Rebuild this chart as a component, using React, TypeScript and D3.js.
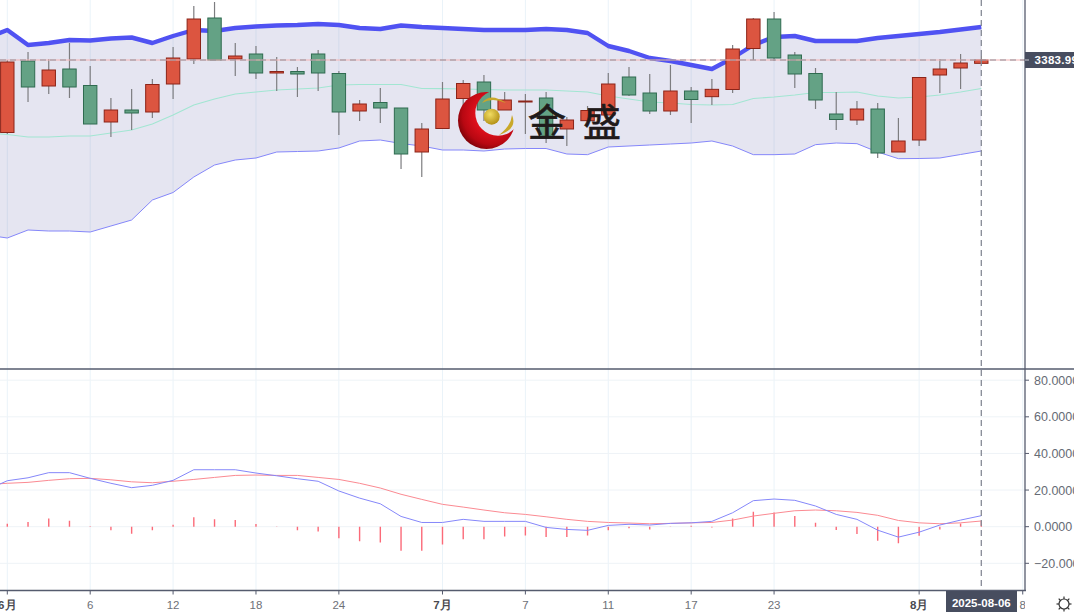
import React from 'react'
import * as d3 from 'd3'

// trading days, 2025-06-02 .. 2025-08-06
const dates = [
  '06-02', '06-03', '06-04', '06-05', '06-06', '06-09', '06-10', '06-11', '06-12', '06-13',
  '06-16', '06-17', '06-18', '06-19', '06-20', '06-23', '06-24', '06-25', '06-26', '06-27',
  '06-30', '07-01', '07-02', '07-03', '07-04', '07-07', '07-08', '07-09', '07-10', '07-11',
  '07-14', '07-15', '07-16', '07-17', '07-18', '07-21', '07-22', '07-23', '07-24', '07-25',
  '07-28', '07-29', '07-30', '07-31', '08-01', '08-04', '08-05', '08-06',
]

const open = [
  3297, 3382.8, 3352.8, 3373.2, 3353.4, 3309.6, 3324, 3321.6, 3355.2, 3385.2,
  3434.4, 3385.2, 3391.2, 3368.4, 3370.2, 3391.2, 3367.8, 3322.8, 3333, 3326.4,
  3273.6, 3301.8, 3337.8, 3357.6, 3324, 3333.6, 3338.4, 3301.2, 3311.2, 3318,
  3363.6, 3344.4, 3322.8, 3346.8, 3340, 3348.6, 3397.8, 3433.2, 3390, 3367.8,
  3319.2, 3312, 3325.2, 3273.6, 3288, 3366, 3374.4, 3380,
]
const close = [
  3381.6, 3351.6, 3372, 3351.6, 3307.2, 3324, 3320.4, 3354.6, 3386.4, 3433.2,
  3384, 3388.8, 3368.4, 3370.2, 3367.2, 3368.4, 3321.6, 3331.2, 3326.4, 3271.2,
  3301.2, 3337.2, 3355.8, 3324, 3336, 3334.8, 3290.4, 3312, 3323.4, 3355.2,
  3342, 3322.8, 3346.8, 3336.6, 3348.8, 3397.2, 3433.2, 3386.4, 3367.2, 3336,
  3312.6, 3325.2, 3272.4, 3286.8, 3363, 3373.2, 3380.4, 3384,
]
const high = [
  3384, 3393.6, 3385.2, 3404.4, 3376.8, 3338.4, 3349.2, 3361.2, 3399.6, 3448.8,
  3453.6, 3404.4, 3400.8, 3387.6, 3375.6, 3396, 3370.8, 3336, 3350.4, 3326.4,
  3308.4, 3357.6, 3360, 3366, 3345.6, 3343.2, 3345.6, 3315.6, 3328.8, 3368.4,
  3375.6, 3367.2, 3378, 3351.6, 3361.2, 3402, 3434.4, 3441.6, 3393.6, 3374.4,
  3345.6, 3334.8, 3332.4, 3314.4, 3363, 3385.2, 3391.2, 3388.8,
]
const low = [
  3295.2, 3333.6, 3343.2, 3338.4, 3307.2, 3291.6, 3300, 3314.4, 3337.2, 3379.2,
  3384, 3364.8, 3361.2, 3346.8, 3339.6, 3346.8, 3294, 3310.8, 3308.4, 3253.2,
  3243.6, 3301.8, 3330, 3310.8, 3324, 3295.2, 3284.4, 3280.8, 3307.2, 3318,
  3340.8, 3319.2, 3318, 3308.4, 3330, 3344.4, 3384, 3382.8, 3350.4, 3325.2,
  3300, 3306, 3266.4, 3273.6, 3280.8, 3344.4, 3349.2, 3380,
]

// band lines start one session before the first visible candle
const bollUpper = [
  3410.4, 3420, 3402, 3404.4, 3408, 3407.4, 3409.8, 3411, 3404.4, 3412.8, 3420,
  3418.8, 3422.4, 3424.2, 3425.4, 3426, 3427.2, 3426, 3422.4, 3421.2, 3425.4,
  3423.6, 3422.4, 3421.2, 3420, 3420, 3420, 3421.2, 3420, 3416.4, 3400.8,
  3394.8, 3386.4, 3382.8, 3378, 3373.2, 3386.4, 3402, 3411.6, 3412.8, 3406.8,
  3406.8, 3406.8, 3410.4, 3412.8, 3415.2, 3417.6, 3420.6, 3423.6,
]
const bollMid = [
  3296.4, 3294.6, 3291.6, 3291.6, 3292.8, 3292.8, 3296.4, 3300, 3307.2, 3318, 3330,
  3337.2, 3343.2, 3345.6, 3348, 3349.2, 3350.4, 3354, 3354.6, 3354.6, 3354.6,
  3349.8, 3349.6, 3349.2, 3348.6, 3348, 3348, 3348, 3346.8, 3345.6, 3340.8,
  3337.2, 3333.6, 3332.4, 3330.6, 3330, 3330.6, 3337.8, 3339.6, 3342, 3345,
  3345, 3345.6, 3340.8, 3338.4, 3339.6, 3342, 3345.6, 3349.8,
]
const bollLower = [
  3174, 3170.4, 3180, 3178.8, 3178.8, 3177.6, 3184.8, 3192, 3216, 3225, 3243.6,
  3258, 3264, 3266.4, 3273.6, 3274.2, 3274.8, 3278.4, 3286.8, 3288, 3283.8,
  3280.8, 3276, 3276, 3274.8, 3277.2, 3277.8, 3277.8, 3271.2, 3270.4, 3279.6,
  3280.8, 3282, 3283.2, 3284.4, 3286.8, 3280.8, 3270.4, 3270.4, 3271.2, 3282.4,
  3284.4, 3283.6, 3273.6, 3265.6, 3265.8, 3266.4, 3270.6, 3274.8,
]

const dif = [
  20, 25.1, 26.7, 29.5, 29.5, 26.4, 23.7, 21.3, 22.6, 25.3, 31.1,
  31.1, 31.1, 29.3, 27.8, 26.2, 24.8, 19.5, 15.6, 12.5, 5.6,
  2.3, 2.3, 4, 2.9, 2.9, 2.9, -0.4, -1.5, -2, 0.7,
  1.3, 0.9, 1.8, 2.1, 2.9, 7.6, 14.2, 15.1, 14.4, 11.3,
  6.7, 4, -1.9, -5.7, -3, 0.9, 3.6, 6,
]
const dea = [
  23, 23.7, 24.2, 25.3, 26.2, 26.4, 25.6, 24.5, 24, 24.8, 25.8,
  26.9, 28, 28.2, 28, 28, 26.9, 25.8, 23.7, 21.1, 17.7,
  14.9, 12.2, 10.7, 9.1, 7.6, 6.7, 5.4, 4, 2.9, 2.3,
  2, 1.6, 1.8, 2.1, 2.3, 3.6, 5.8, 7.3, 8.7, 9.1,
  8.7, 7.8, 6.2, 3.4, 2.1, 1.6, 2.1, 3.1,
]
const macdHist = [
  1.6, 2.5, 4.4, 3.3, 0.2, -1.9, -3.8, -1.9, 1.1, 5.2,
  4.1, 3.6, 1.4, 0.1, -1.9, -2.7, -6.3, -7.9, -8.7, -13.1,
  -13.1, -9.8, -6.9, -6.9, -5.3, -4.8, -5.7, -5.7, -4.8, -2,
  -0.8, -1.6, 0.1, 0.5, -0.5, 4.4, 8.2, 7.8, 5.8, 2.2,
  -1.8, -4, -7.7, -9.1, -4.9, -1.5, 1.8, 3,
]

const lastPrice = 3383.99
const macdTicks = [80, 60, 40, 20, 0, -20]
const xTicks = [
  { i: 0, label: '6月', month: true },
  { i: 4, label: '6' },
  { i: 8, label: '12' },
  { i: 12, label: '18' },
  { i: 16, label: '24' },
  { i: 21, label: '7月', month: true },
  { i: 25, label: '7' },
  { i: 29, label: '11' },
  { i: 33, label: '17' },
  { i: 37, label: '23' },
  { i: 44, label: '8月', month: true },
  { i: 49, label: '8' },
]

const axisX = 1025
const sepY = 369
const bottomY = 590.5
const axisColor = '#555b6e'
const tagColor = '#474d5f'
const gridColor = '#eaf3f9'
const sans = '"Liberation Sans", Arial, sans-serif'

export default function App() {
  const x = d3.scaleLinear().domain([0, 47]).range([7.3, 981.3])
  const y = d3.scaleLinear().domain([3456, 3456 - 1.2 * sepY]).range([0, sepY])
  const yM = d3.scaleLinear().domain([-20, 80]).range([563.3, 380.2])

  // series with a leading point are offset by one
  const line = (ys: d3.ScaleLinear<number, number>) =>
    d3.line<number>().x((_, i) => x(i - 1)).y(d => ys(d))

  const bandArea = d3.area<number>()
    .x((_, i) => x(i - 1))
    .y0(d => y(d))
    .y1((_, i) => y(bollLower[i]))

  const bodyW = 13.4
  const lastIdx = dates.length - 1

  return (
    <div style={{ width: 1074, height: 612, overflow: 'hidden' }}>
      <style>{'html,body{margin:0;padding:0;background:#fff;overflow:hidden}'}</style>
      <svg width={1074} height={612} style={{ display: 'block', fontFamily: sans }}>
        <defs>
          <clipPath id="plot"><rect x={0} y={0} width={axisX} height={bottomY} /></clipPath>
          <clipPath id="labels"><rect x={0} y={591} width={axisX} height={21} /></clipPath>
          <radialGradient id="crescent" cx="0.6" cy="0.4" r="0.65">
            <stop offset="0.45" stopColor="#e0101c" />
            <stop offset="0.8" stopColor="#b80812" />
            <stop offset="1" stopColor="#7c0208" />
          </radialGradient>
          <radialGradient id="ball" cx="0.4" cy="0.35" r="0.7">
            <stop offset="0" stopColor="#f1dc62" />
            <stop offset="1" stopColor="#b08c12" />
          </radialGradient>
          <mask id="crescentCut">
            <rect x={440} y={80} width={100} height={90} fill="#fff" />
            <circle cx={498} cy={113} r={22.7} fill="#000" />
          </mask>
        </defs>

        <g clipPath="url(#plot)">
          {xTicks.map(t => (
            <line key={t.i} x1={x(t.i)} x2={x(t.i)} y1={0} y2={bottomY} stroke={gridColor} strokeWidth={1} />
          ))}
          {macdTicks.map(t => (
            <line key={t} x1={0} x2={axisX} y1={yM(t)} y2={yM(t)} stroke="#eef3f7" strokeWidth={1} />
          ))}

          <path d={bandArea(bollUpper) ?? ''} fill="#5a5aa8" fillOpacity={0.155} />
          <path d={line(y)(bollMid) ?? ''} fill="none" stroke="#a2e6d2" strokeWidth={1.1} />
          <path d={line(y)(bollLower) ?? ''} fill="none" stroke="#8587fa" strokeWidth={1} />
          <path d={line(y)(bollUpper) ?? ''} fill="none" stroke="#5052f2" strokeWidth={4.4} strokeLinejoin="round" />

          {dates.map((d, i) => {
            const up = close[i] >= open[i]
            const top = y(Math.max(open[i], close[i]))
            const h = Math.abs(y(open[i]) - y(close[i]))
            return (
              <g key={d}>
                <line x1={x(i)} x2={x(i)} y1={y(high[i])} y2={y(low[i])} stroke="#7d7d80" strokeWidth={1.2} />
                <rect
                  x={x(i) - bodyW / 2}
                  y={top}
                  width={bodyW}
                  height={Math.max(h, 1)}
                  fill={up ? '#dc5540' : '#64a285'}
                  stroke={up ? '#8c2418' : '#2f6b50'}
                  strokeWidth={1}
                />
              </g>
            )
          })}

          {macdHist.map((v, i) => (
            <line key={dates[i]} x1={x(i)} x2={x(i)} y1={yM(0)} y2={yM(v)} stroke="#fb6a78" strokeWidth={1.4} />
          ))}
          <path d={line(yM)(dea) ?? ''} fill="none" stroke="#fb8a92" strokeWidth={1} />
          <path d={line(yM)(dif) ?? ''} fill="none" stroke="#8587fa" strokeWidth={1} />

          {/* last price + crosshair */}
          <line x1={0} x2={axisX} y1={y(lastPrice)} y2={y(lastPrice)} stroke="#f6b4b4" strokeWidth={1.2} />
          <line x1={0} x2={axisX} y1={y(lastPrice)} y2={y(lastPrice)} stroke="#8f8f99" strokeWidth={1.2} strokeDasharray="6 4" />
          <line x1={x(lastIdx)} x2={x(lastIdx)} y1={0} y2={bottomY} stroke="#868a96" strokeWidth={1.3} strokeDasharray="6 4" />
        </g>

        {/* watermark */}
        <g>
          <circle cx={486.5} cy={120.5} r={28.5} fill="url(#crescent)" mask="url(#crescentCut)" />
          <circle cx={491.7} cy={116.7} r={8} fill="url(#ball)" />
          <path d="M482 103 Q490 92 506 103 Q492 97 482 103Z" fill="#c9a82a" />
          <path d="M499 135 Q511 126 512 115 Q518 129 499 135Z" fill="#c9a82a" />
          <text x={547} y={136} textAnchor="middle" fontSize={38} fill="#1f1a1a" stroke="#1f1a1a" strokeWidth={0.7} style={{ fontFamily: '"Noto Sans CJK SC"' }}>金</text>
          <text x={602} y={136} textAnchor="middle" fontSize={38} fill="#1f1a1a" stroke="#1f1a1a" strokeWidth={0.7} style={{ fontFamily: '"Noto Sans CJK SC"' }}>盛</text>
        </g>

        {/* frame */}
        <line x1={0} x2={1074} y1={sepY} y2={sepY} stroke={axisColor} strokeWidth={1.3} />
        <line x1={0} x2={axisX + 1} y1={bottomY} y2={bottomY} stroke={axisColor} strokeWidth={1.3} />
        <line x1={axisX} x2={axisX} y1={0} y2={bottomY} stroke={axisColor} strokeWidth={1.3} />

        {/* macd axis */}
        {macdTicks.map(t => (
          <g key={t}>
            <line x1={axisX} x2={axisX + 4} y1={yM(t)} y2={yM(t)} stroke={axisColor} strokeWidth={1} />
            <text x={1034} y={yM(t) + 4.5} fontSize={12.5} fill="#666b75">
              {d3.format('.4f')(t).replace('-', '−')}
            </text>
          </g>
        ))}

        {/* date axis */}
        <g clipPath="url(#labels)">
          {xTicks.map(t => (
            <g key={t.i}>
              <line x1={x(t.i)} x2={x(t.i)} y1={bottomY} y2={bottomY + 4} stroke={axisColor} strokeWidth={1} />
              <text
                x={x(t.i)}
                y={609}
                textAnchor="middle"
                fontSize={11.5}
                fontWeight={t.month ? 700 : 400}
                fill={t.month ? '#4a4a50' : '#6e7178'}
              >
                {t.label}
              </text>
            </g>
          ))}
        </g>

        {/* price tag */}
        <rect x={axisX} y={52} width={50} height={16} fill={tagColor} />
        <line x1={axisX} x2={axisX + 4} y1={y(lastPrice)} y2={y(lastPrice)} stroke="#c9ccd3" strokeWidth={1} />
        <text x={1034.5} y={64} fontSize={11.5} fontWeight={700} fill="#fff" letterSpacing={0.3}>
          {lastPrice.toFixed(2)}
        </text>

        {/* date tag */}
        <rect x={946} y={591} width={71} height={21} fill={tagColor} />
        <text x={x(lastIdx)} y={607} textAnchor="middle" fontSize={11.5} fontWeight={700} fill="#fff">
          {'2025-' + dates[lastIdx]}
        </text>

        {/* settings gear */}
        <g stroke="#333" strokeWidth={1.2} fill="none">
          <circle cx={1064} cy={604} r={5} />
          {d3.range(8).map(k => {
            const a = (k * Math.PI) / 4
            return (
              <line
                key={k}
                x1={1064 + 5 * Math.cos(a)}
                y1={604 + 5 * Math.sin(a)}
                x2={1064 + 7.5 * Math.cos(a)}
                y2={604 + 7.5 * Math.sin(a)}
              />
            )
          })}
        </g>
      </svg>
    </div>
  )
}
